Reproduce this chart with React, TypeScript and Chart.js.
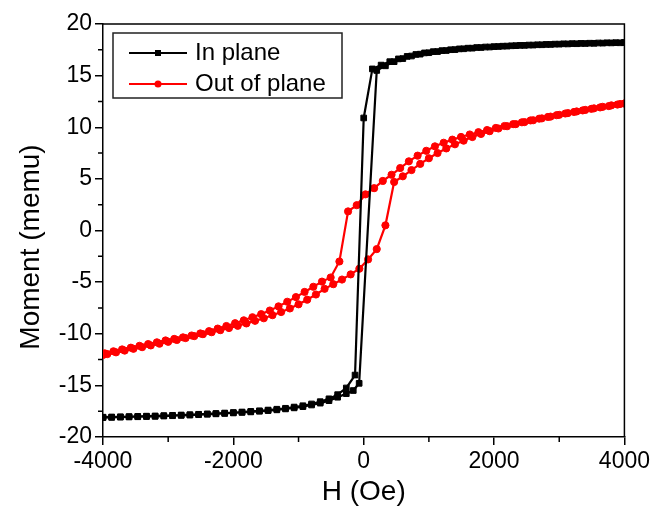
import React, { useEffect, useRef } from 'react';
import { Chart, registerables } from 'chart.js';

Chart.register(...registerables);

const FONT = "'Liberation Sans', Arial, sans-serif";

const SERIES_NAMES = ['In plane', 'Out of plane'];
const X_TITLE = 'H (Oe)';
const Y_TITLE = 'Moment (memu)';
const X_MINOR = [-3000, -1000, 1000, 3000];
const Y_MINOR = [-17.5, -12.5, -7.5, -2.5, 2.5, 7.5, 12.5, 17.5];

// In plane: descending branch (+4000 -> -4000)
const inDownH = [4000, 3867, 3733, 3600, 3467, 3333, 3200, 3067, 2933, 2800, 2667, 2533, 2400, 2267, 2133, 2000, 1867, 1733, 1600, 1467, 1333, 1200, 1067, 933, 800, 667, 533, 400, 267, 133, 0, -133, -267, -400, -533, -667, -800, -933, -1067, -1200, -1333, -1467, -1600, -1733, -1867, -2000, -2133, -2267, -2400, -2533, -2667, -2800, -2933, -3067, -3200, -3333, -3467, -3600, -3733, -3867, -4000];
const inDownM = [18.2, 18.19, 18.18, 18.16, 18.14, 18.12, 18.1, 18.08, 18.05, 18.02, 17.99, 17.96, 17.93, 17.89, 17.85, 17.81, 17.77, 17.72, 17.66, 17.59, 17.51, 17.42, 17.32, 17.2, 17.05, 16.86, 16.62, 16.35, 16.02, 15.65, 10.9, -14.0, -15.25, -15.9, -16.3, -16.58, -16.8, -16.97, -17.1, -17.22, -17.31, -17.39, -17.46, -17.52, -17.58, -17.63, -17.68, -17.72, -17.76, -17.8, -17.84, -17.87, -17.9, -17.93, -17.96, -17.98, -18.0, -18.02, -18.04, -18.06, -18.08];
// In plane: ascending branch (-4000 -> +4000)
const inUpH = [-4000, -3867, -3733, -3600, -3467, -3333, -3200, -3067, -2933, -2800, -2667, -2533, -2400, -2267, -2133, -2000, -1867, -1733, -1600, -1467, -1333, -1200, -1067, -933, -800, -667, -533, -400, -267, -160, -70, 200, 333, 467, 600, 733, 867, 1000, 1133, 1267, 1400, 1533, 1667, 1800, 1933, 2067, 2200, 2333, 2467, 2600, 2733, 2867, 3000, 3133, 3267, 3400, 3533, 3667, 3800, 3933, 4000];
const inUpM = [-18.12, -18.1, -18.08, -18.06, -18.04, -18.02, -18.0, -17.97, -17.94, -17.91, -17.88, -17.84, -17.8, -17.76, -17.72, -17.67, -17.62, -17.57, -17.51, -17.44, -17.37, -17.28, -17.18, -17.06, -16.9, -16.72, -16.48, -16.15, -15.8, -15.5, -14.8, 15.5, 15.95, 16.35, 16.65, 16.9, 17.08, 17.22, 17.33, 17.43, 17.52, 17.6, 17.66, 17.72, 17.77, 17.82, 17.86, 17.9, 17.93, 17.96, 17.99, 18.02, 18.05, 18.07, 18.09, 18.11, 18.13, 18.15, 18.17, 18.18, 18.2];

// Out of plane: descending branch
const outDownH = [4000, 3893, 3760, 3627, 3493, 3360, 3227, 3093, 2960, 2827, 2693, 2560, 2427, 2293, 2160, 2027, 1893, 1760, 1627, 1493, 1360, 1227, 1093, 960, 827, 693, 560, 427, 293, 160, 27, -107, -240, -373, -507, -640, -773, -907, -1040, -1173, -1307, -1440, -1573, -1707, -1840, -1973, -2107, -2240, -2373, -2507, -2640, -2773, -2907, -3040, -3173, -3307, -3440, -3573, -3707, -3840, -3973, -4000];
const outDownM = [12.3, 12.2, 12.05, 11.92, 11.78, 11.63, 11.48, 11.33, 11.17, 11.0, 10.83, 10.66, 10.48, 10.3, 10.12, 9.93, 9.73, 9.52, 9.3, 9.06, 8.8, 8.5, 8.15, 7.72, 7.25, 6.7, 6.05, 5.4, 4.8, 4.1, 3.5, 2.45, 1.85, -3.0, -4.55, -4.95, -5.45, -5.95, -6.45, -6.9, -7.35, -7.75, -8.1, -8.4, -8.7, -8.98, -9.25, -9.5, -9.75, -9.97, -10.17, -10.35, -10.5, -10.65, -10.83, -11.0, -11.17, -11.35, -11.52, -11.7, -11.9, -11.95];
// Out of plane: ascending branch
const outUpH = [-4000, -3933, -3800, -3667, -3533, -3400, -3267, -3133, -3000, -2867, -2733, -2600, -2467, -2333, -2200, -2067, -1933, -1800, -1667, -1533, -1400, -1267, -1133, -1000, -867, -733, -600, -467, -333, -200, -67, 67, 200, 333, 467, 600, 733, 867, 1000, 1133, 1267, 1400, 1533, 1667, 1800, 1933, 2067, 2200, 2333, 2467, 2600, 2733, 2867, 3000, 3133, 3267, 3400, 3533, 3667, 3800, 3933, 4000];
const outUpM = [-12.05, -11.97, -11.8, -11.63, -11.46, -11.3, -11.13, -10.96, -10.78, -10.6, -10.42, -10.23, -10.04, -9.85, -9.65, -9.45, -9.23, -9.0, -8.75, -8.5, -8.2, -7.9, -7.55, -7.15, -6.7, -6.2, -5.65, -5.2, -4.75, -4.25, -3.7, -2.8, -1.8, 0.5, 4.7, 5.25, 5.85, 6.45, 7.0, 7.5, 7.95, 8.35, 8.7, 9.05, 9.35, 9.62, 9.88, 10.1, 10.3, 10.5, 10.68, 10.86, 11.03, 11.2, 11.37, 11.53, 11.68, 11.83, 11.98, 12.12, 12.25, 12.3];

const toPts = (hs: number[], ms: number[]) => hs.map((h, i) => ({ x: h, y: ms[i] }));

const framePlugin = {
  id: 'frameAndMinor',
  afterDraw(chart: any) {
    const { ctx, chartArea, scales } = chart;
    const { left, right, top, bottom } = chartArea;
    ctx.save();
    ctx.strokeStyle = '#000';
    ctx.lineWidth = 1.5;
    ctx.beginPath();
    ctx.moveTo(left, top);
    ctx.lineTo(right, top);
    ctx.lineTo(right, bottom);
    ctx.stroke();
    ctx.beginPath();
    X_MINOR.forEach((v) => {
      const px = scales.x.getPixelForValue(v);
      ctx.moveTo(px, bottom);
      ctx.lineTo(px, bottom + 5);
    });
    Y_MINOR.forEach((v) => {
      const py = scales.y.getPixelForValue(v);
      ctx.moveTo(left, py);
      ctx.lineTo(left - 5, py);
    });
    ctx.stroke();
    ctx.fillStyle = '#000';
    ctx.font = `28px ${FONT}`;
    ctx.textAlign = 'center';
    ctx.textBaseline = 'middle';
    ctx.translate(31, 247);
    ctx.rotate(-Math.PI / 2);
    ctx.fillText(Y_TITLE, 0, 0);
    ctx.restore();
  },
};

const legendPlugin = {
  id: 'boxLegend',
  afterDatasetsDraw(chart: any) {
    const { ctx } = chart;
    ctx.save();
    ctx.fillStyle = '#fff';
    ctx.fillRect(113, 33, 229, 65);
    ctx.strokeStyle = '#222';
    ctx.lineWidth = 1.5;
    ctx.strokeRect(113, 33, 229, 65);
    chart.data.datasets.forEach((ds: any, i: number) => {
      const y = 53 + i * 31;
      ctx.strokeStyle = ds.borderColor;
      ctx.lineWidth = 2;
      ctx.beginPath();
      ctx.moveTo(129, y);
      ctx.lineTo(187, y);
      ctx.stroke();
      ctx.fillStyle = ds.backgroundColor;
      if (ds.pointStyle === 'rect') {
        ctx.fillRect(155, y - 3, 6, 6);
      } else {
        ctx.beginPath();
        ctx.arc(158, y, 3.5, 0, Math.PI * 2);
        ctx.fill();
      }
      ctx.fillStyle = '#000';
      ctx.font = `24px ${FONT}`;
      ctx.textAlign = 'left';
      ctx.textBaseline = 'middle';
      ctx.fillText(ds.label, 195, y);
    });
    ctx.restore();
  },
};

export default function App() {
  const ref = useRef<HTMLCanvasElement | null>(null);
  useEffect(() => {
    if (!ref.current) return;
    Chart.defaults.font.family = FONT;
    Chart.defaults.color = '#000';
    const chart = new Chart(ref.current, {
      type: 'line',
      data: {
        datasets: [
          {
            label: SERIES_NAMES[0],
            data: [...toPts(inDownH, inDownM), ...toPts(inUpH, inUpM)],
            borderColor: '#000',
            backgroundColor: '#000',
            borderWidth: 2.2,
            pointStyle: 'rect',
            pointRadius: 4,
            pointBorderWidth: 1,
            tension: 0,
          },
          {
            label: SERIES_NAMES[1],
            data: [...toPts(outDownH, outDownM), ...toPts(outUpH, outUpM)],
            borderColor: '#ff0000',
            backgroundColor: '#ff0000',
            borderWidth: 2.2,
            pointStyle: 'circle',
            pointRadius: 3.6,
            pointBorderWidth: 1,
            tension: 0,
          },
        ],
      },
      options: {
        responsive: false,
        animation: false,
        devicePixelRatio: 1,
        layout: { padding: { top: 24, right: 28, left: 0, bottom: 0 } },
        plugins: { legend: { display: false }, tooltip: { enabled: false } },
        scales: {
          x: {
            type: 'linear',
            min: -4000,
            max: 4000,
            ticks: { stepSize: 2000, font: { size: 23 }, padding: 3, color: '#000', maxRotation: 0, callback: (v: any) => String(v) },
            grid: { drawOnChartArea: false, drawTicks: true, tickLength: 8, color: '#000', lineWidth: 1.5 },
            border: { color: '#000', width: 1.5 },
            title: { display: true, text: X_TITLE, font: { size: 28 }, color: '#000', padding: { top: 0, bottom: 3 } },
            afterFit: (s: any) => { s.height = 75; },
          },
          y: {
            type: 'linear',
            min: -20,
            max: 20,
            ticks: { stepSize: 5, font: { size: 23 }, padding: 3, color: '#000', callback: (v: any) => String(v) },
            grid: { drawOnChartArea: false, drawTicks: true, tickLength: 8, color: '#000', lineWidth: 1.5 },
            border: { color: '#000', width: 1.5 },
            afterFit: (s: any) => { s.width = 103; },
          },
        },
      },
      plugins: [framePlugin, legendPlugin],
    } as any);
    return () => chart.destroy();
  }, []);
  return (
    <div style={{ position: 'fixed', left: 0, top: 0, width: 653, height: 512, background: '#fff' }}>
      <canvas ref={ref} width={653} height={512} />
    </div>
  );
}
